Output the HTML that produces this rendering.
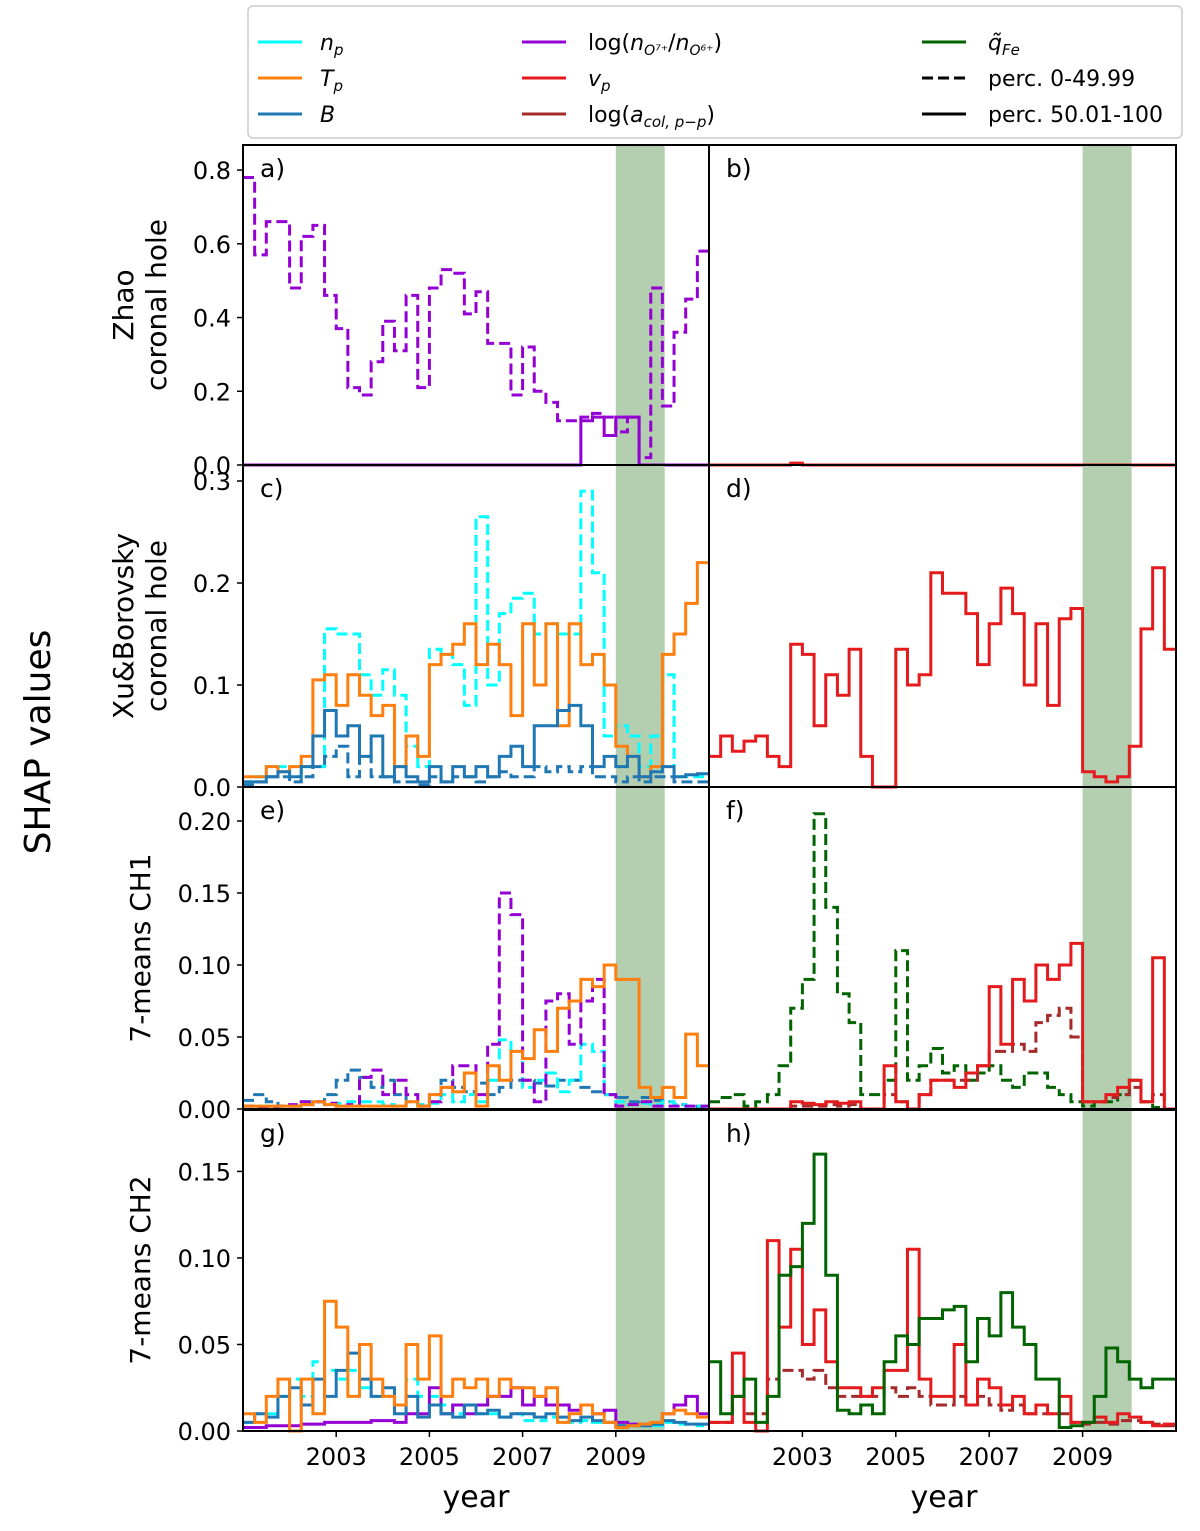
<!DOCTYPE html>
<html><head><meta charset="utf-8"><style>
body{margin:0;background:#fff;}
svg{display:block;font-family:"DejaVu Sans","Liberation Sans",sans-serif;}
</style></head><body>
<svg id="fig" width="1200" height="1531" viewBox="0 0 1200 1531"></svg>
<script>
// ---- data (40 bins, 0.25 yr each, starting 2001.0) ----
const binStart = 2001.0;
const binWidth = 0.25;
const xTicks = [2003, 2005, 2007, 2009];
const yTicksA = [0.0, 0.2, 0.4, 0.6, 0.8];
const yTicksC = [0.0, 0.1, 0.2, 0.3];
const yTicksE = [0.00, 0.05, 0.10, 0.15, 0.20];
const yTicksG = [0.00, 0.05, 0.10, 0.15];
const band = [2009.0, 2010.05];

const aO7dash = [0.78,0.57,0.66,0.66,0.48,0.62,0.65,0.46,0.37,0.21,0.19,0.28,0.39,0.31,0.46,0.21,0.48,0.53,0.52,0.41,0.47,0.33,0.33,0.19,0.32,0.20,0.17,0.12,0.12,0.13,0.14,0.13,0.09,0.13,0.02,0.48,0.16,0.36,0.45,0.58];
const aO7solid = [0,0,0,0,0,0,0,0,0,0,0,0,0,0,0,0,0,0,0,0,0,0,0,0,0,0,0,0,0,0.12,0.13,0.08,0.13,0.13,0,0,0,0,0,0];
const bVp = [0,0,0,0,0,0,0,0.005,0,0,0,0,0,0,0,0,0,0,0,0,0,0,0,0,0,0,0,0,0,0,0,0,0,0,0,0,0,0,0,0];
const cNpDash = [0.005,0.01,0.02,0.02,0.01,0.02,0.02,0.155,0.15,0.15,0.11,0.09,0.115,0.09,0.04,0.02,0.135,0.13,0.12,0.08,0.265,0.10,0.17,0.185,0.19,0.15,0.16,0.15,0.15,0.29,0.21,0.05,0.06,0.05,0.02,0.05,0.11,0.01,0.01,0.01];
const cTp = [0.01,0.01,0.02,0.015,0.02,0.03,0.105,0.11,0.08,0.11,0.09,0.07,0.08,0.02,0.05,0.03,0.12,0.13,0.14,0.16,0.12,0.14,0.12,0.07,0.16,0.10,0.16,0.06,0.16,0.12,0.13,0.10,0.04,0.03,0.01,0.02,0.13,0.15,0.18,0.22];
const cB = [0.005,0.005,0.01,0.015,0.01,0.02,0.05,0.075,0.05,0.06,0.03,0.05,0.01,0.02,0.01,0.005,0.02,0.005,0.02,0.01,0.02,0.01,0.03,0.04,0.02,0.06,0.06,0.075,0.08,0.06,0.02,0.03,0.02,0.03,0.01,0.015,0.02,0.01,0.012,0.013];
const cBdash = [0.002,0.005,0.01,0.01,0.005,0.01,0.02,0.03,0.04,0.01,0.03,0.01,0.01,0.005,0.005,0.002,0.01,0.005,0.01,0.01,0.005,0.01,0.015,0.01,0.01,0.02,0.015,0.02,0.015,0.02,0.01,0.01,0.005,0.01,0.005,0.01,0.01,0.005,0.005,0.005];
const dVp = [0.03,0.05,0.035,0.045,0.05,0.03,0.02,0.14,0.13,0.06,0.11,0.09,0.135,0.03,0,0,0.135,0.10,0.11,0.21,0.19,0.19,0.17,0.12,0.16,0.195,0.17,0.10,0.16,0.08,0.165,0.175,0.015,0.01,0.005,0.01,0.04,0.155,0.215,0.135];
const eTp = [0.002,0.002,0.002,0.002,0.002,0.003,0.005,0.003,0.002,0.002,0.002,0.002,0.002,0.002,0.005,0.002,0.01,0.015,0.012,0.025,0.002,0.03,0.02,0.04,0.035,0.055,0.04,0.07,0.075,0.09,0.085,0.1,0.09,0.09,0.015,0.008,0.015,0.008,0.052,0.03];
const eO7dash = [0.002,0.001,0.001,0.002,0.003,0.005,0.005,0.004,0.002,0.003,0.022,0.027,0.01,0.02,0.01,0.002,0.005,0.015,0.03,0.03,0.01,0.045,0.15,0.135,0.02,0.005,0.075,0.08,0.045,0.075,0.09,0.01,0.002,0.003,0.005,0.002,0.002,0.002,0.002,0.002];
const eNpDash = [0.002,0.002,0.002,0.002,0.002,0.005,0.005,0.003,0.004,0.005,0.005,0.005,0.003,0.002,0.005,0.003,0.004,0.01,0.005,0.01,0.005,0.02,0.048,0.04,0.015,0.02,0.025,0.012,0.02,0.045,0.04,0.01,0.005,0.003,0.004,0.003,0.005,0.003,0.002,0.002];
const eBdash = [0.006,0.01,0.005,0.002,0.002,0.003,0.005,0.01,0.02,0.027,0.022,0.015,0.02,0.01,0.005,0.003,0.01,0.02,0.015,0.012,0.018,0.01,0.015,0.02,0.02,0.018,0.016,0.02,0.02,0.015,0.012,0.01,0.008,0.005,0.008,0.006,0.005,0.003,0.002,0.001];
const fQfeDash = [0.005,0.008,0.01,0.002,0.005,0.01,0.03,0.07,0.09,0.205,0.14,0.08,0.06,0.01,0.01,0.02,0.11,0.02,0.03,0.042,0.025,0.03,0.02,0.025,0.03,0.02,0.015,0.025,0.025,0.015,0.01,0.005,0.002,0.005,0.005,0.01,0.02,0.005,0.001,0];
const fVp = [0,0,0,0,0,0,0,0.005,0.004,0.003,0.005,0.004,0.005,0,0,0.03,0.005,0,0.01,0.02,0.02,0.015,0.025,0.03,0.085,0.045,0.09,0.075,0.1,0.09,0.1,0.115,0.005,0.005,0.01,0.015,0.02,0.005,0.105,0];
const fVpDash = [0,0,0,0,0,0,0,0.002,0.002,0.002,0.003,0.002,0.003,0,0,0.01,0.005,0,0.01,0.02,0.02,0.02,0.02,0.03,0.04,0.04,0.045,0.04,0.06,0.065,0.07,0.05,0.005,0.005,0.008,0.01,0.015,0.005,0.01,0];
const gTp = [0.01,0.005,0.02,0.03,0.0,0.03,0.01,0.075,0.06,0.02,0.05,0.03,0.02,0.015,0.05,0.03,0.055,0.02,0.03,0.025,0.03,0.02,0.03,0.025,0.025,0.02,0.025,0.005,0.01,0.015,0.01,0.005,0.002,0.003,0.004,0.005,0.01,0.012,0.01,0.008];
const gB = [0.005,0.01,0.008,0.02,0.025,0.015,0.03,0.02,0.035,0.045,0.03,0.02,0.025,0.01,0.02,0.008,0.015,0.01,0.008,0.015,0.01,0.012,0.008,0.01,0.01,0.008,0.01,0.008,0.006,0.008,0.006,0.005,0.003,0.003,0.003,0.004,0.006,0.005,0.004,0.004];
const gO7 = [0.002,0.002,0.003,0.003,0.003,0.004,0.004,0.005,0.005,0.005,0.005,0.006,0.006,0.005,0.01,0.01,0.025,0.01,0.015,0.01,0.015,0.02,0.02,0.025,0.015,0.02,0.015,0.015,0.012,0.015,0.01,0.012,0.005,0.004,0.004,0.004,0.01,0.015,0.02,0.01];
const gNpDash = [0.005,0.01,0.01,0.02,0.03,0.02,0.04,0.035,0.03,0.035,0.025,0.02,0.02,0.015,0.03,0.02,0.02,0.015,0.01,0.015,0.01,0.01,0.008,0.01,0.006,0.006,0.008,0.005,0.005,0.006,0.005,0.005,0.003,0.003,0.003,0.003,0.005,0.004,0.004,0.003];
const hQfe = [0.04,0.01,0.02,0.03,0.005,0.02,0.09,0.095,0.12,0.16,0.09,0.012,0.01,0.015,0.01,0.04,0.055,0.05,0.065,0.065,0.07,0.072,0.04,0.065,0.055,0.08,0.06,0.05,0.03,0.03,0.002,0.003,0.005,0.02,0.048,0.04,0.03,0.025,0.03,0.03];
const hVp = [0.005,0.005,0.045,0.005,0.0,0.11,0.06,0.105,0.05,0.07,0.04,0.025,0.025,0.02,0.025,0.035,0.035,0.105,0.03,0.02,0.02,0.05,0.015,0.03,0.025,0.015,0.02,0.01,0.015,0.01,0.02,0.005,0.005,0.008,0.005,0.01,0.008,0.005,0.003,0.004];
const hVpDash = [0.005,0.005,0.02,0.01,0.01,0.03,0.035,0.035,0.03,0.035,0.025,0.02,0.02,0.02,0.02,0.025,0.02,0.025,0.02,0.015,0.015,0.02,0.015,0.02,0.015,0.012,0.015,0.01,0.01,0.01,0.01,0.005,0.004,0.005,0.004,0.006,0.006,0.005,0.004,0.003];

const C = {np:'#00ffff', tp:'#ff7f0e', b:'#1f77b4', o7:'#9400d3', vp:'#e41a1c', ac:'#a52a2a', fe:'#006400'};
const NS='http://www.w3.org/2000/svg';
const svg=document.getElementById('fig');
function mk(tag,attrs,parent){const e=document.createElementNS(NS,tag);for(const k in attrs)e.setAttribute(k,attrs[k]);(parent||svg).appendChild(e);return e;}

const cols=[{x0:243,x1:709},{x0:709,x1:1176}];
const rows=[{y0:145,y1:465,max:0.868,ticks:yTicksA,fmt:1},{y0:465,y1:787,max:0.3157,ticks:yTicksC,fmt:1},{y0:787,y1:1109,max:0.2236,ticks:yTicksE,fmt:2},{y0:1110,y1:1431,max:0.1855,ticks:yTicksG,fmt:2}];
const panels=[
 {r:0,c:0,lab:'a)',series:[[aO7dash,C.o7,true],[aO7solid,C.o7,false]]},
 {r:0,c:1,lab:'b)',series:[[bVp,C.vp,false]]},
 {r:1,c:0,lab:'c)',series:[[cNpDash,C.np,true],[cBdash,C.b,true],[cTp,C.tp,false],[cB,C.b,false]]},
 {r:1,c:1,lab:'d)',series:[[dVp,C.vp,false]]},
 {r:2,c:0,lab:'e)',series:[[eBdash,C.b,true],[eNpDash,C.np,true],[eO7dash,C.o7,true],[eTp,C.tp,false]]},
 {r:2,c:1,lab:'f)',series:[[fQfeDash,C.fe,true],[fVpDash,C.ac,true],[fVp,C.vp,false]]},
 {r:3,c:0,lab:'g)',series:[[gNpDash,C.np,true],[gO7,C.o7,false],[gB,C.b,false],[gTp,C.tp,false]]},
 {r:3,c:1,lab:'h)',series:[[hVpDash,C.ac,true],[hVp,C.vp,false],[hQfe,C.fe,false]]}
];
panels.forEach(p=>{
 const col=cols[p.c],row=rows[p.r];
 const X=v=>col.x0+(v-2001)/10*(col.x1-col.x0);
 const Y=v=>row.y1-v/row.max*(row.y1-row.y0);
 const g=mk('g',{});
 
 
 const bd=mk('rect',{x:X(band[0]),y:row.y0,width:X(band[1])-X(band[0]),height:row.y1-row.y0,fill:'#b3cfb0'},g);
 
 
 p.series.forEach(s=>{
  const d=s[0];let pts=[];
  d.forEach((v,i)=>{const xa=X(binStart+i*binWidth),xb=X(binStart+(i+1)*binWidth);pts.push(xa+','+Y(v),xb+','+Y(v));});
  const pl=mk('polyline',{points:pts.join(' '),fill:'none',stroke:s[1],'stroke-width':3,'stroke-dasharray':s[2]?'11,5':'none'},g);
  
  
 });
 mk('rect',{x:col.x0,y:row.y0,width:col.x1-col.x0,height:row.y1-row.y0,fill:'none',stroke:'#000','stroke-width':2},g);
 const t=mk('text',{x:col.x0+17,y:row.y0+32,'font-size':25},g);t.textContent=p.lab;
 
 
 if(p.c===0){row.ticks.forEach(v=>{
  mk('line',{x1:col.x0-6,x2:col.x0,y1:Y(v),y2:Y(v),stroke:'#000','stroke-width':1.5},g);
  const tt=mk('text',{x:col.x0-12,y:Y(v)+9,'font-size':24,'text-anchor':'end'},g);tt.textContent=v.toFixed(row.fmt);
  
  
 });}
 if(p.r===3){xTicks.forEach(v=>{
  mk('line',{x1:X(v),x2:X(v),y1:row.y1,y2:row.y1+6,stroke:'#000','stroke-width':1.5},g);
  const tt=mk('text',{x:X(v),y:row.y1+34,'font-size':24,'text-anchor':'middle'},g);tt.textContent=v;
  
  
 });}
});
</script>
<svg width="1200" height="1531" style="position:absolute;left:0;top:0">
 <g font-family="DejaVu Sans, Liberation Sans, sans-serif">
 <text x="476" y="1507" font-size="30" text-anchor="middle">year</text>
 <text x="944" y="1507" font-size="30" text-anchor="middle">year</text>
 <text transform="translate(50,742) rotate(-90)" font-size="36" text-anchor="middle">SHAP values</text>
 <text transform="translate(133,305) rotate(-90)" font-size="28" text-anchor="middle">Zhao</text>
 <text transform="translate(166,305) rotate(-90)" font-size="28" text-anchor="middle">coronal hole</text>
 <text transform="translate(133,626) rotate(-90)" font-size="28" text-anchor="middle">Xu&amp;Borovsky</text>
 <text transform="translate(166,626) rotate(-90)" font-size="28" text-anchor="middle">coronal hole</text>
 <text transform="translate(150,948) rotate(-90)" font-size="28" text-anchor="middle">7-means CH1</text>
 <text transform="translate(150,1270) rotate(-90)" font-size="28" text-anchor="middle">7-means CH2</text>
 </g>
 <g font-family="DejaVu Sans, Liberation Sans, sans-serif" font-size="22">
  <rect x="248" y="6" width="934" height="132" rx="5" fill="#fff" stroke="#ccc" stroke-width="1.5"/>
  <line x1="258" y1="42" x2="302" y2="42" stroke="#00ffff" stroke-width="3"/><text x="320" y="50" font-style="italic">n<tspan font-size="15" dy="5">p</tspan></text>
  <line x1="258" y1="78" x2="302" y2="78" stroke="#ff7f0e" stroke-width="3"/><text x="320" y="86" font-style="italic">T<tspan font-size="15" dy="5">p</tspan></text>
  <line x1="258" y1="114" x2="302" y2="114" stroke="#1f77b4" stroke-width="3"/><text x="320" y="122" font-style="italic">B</text>
  <line x1="522" y1="42" x2="566" y2="42" stroke="#9400d3" stroke-width="3"/><text x="588" y="50">log(<tspan font-style="italic">n</tspan><tspan font-size="14" dy="5" font-style="italic">O⁷⁺</tspan><tspan dy="-5">/</tspan><tspan font-style="italic">n</tspan><tspan font-size="14" dy="5" font-style="italic">O⁶⁺</tspan><tspan dy="-5">)</tspan></text>
  <line x1="522" y1="78" x2="566" y2="78" stroke="#e41a1c" stroke-width="3"/><text x="588" y="86" font-style="italic">v<tspan font-size="15" dy="5">p</tspan></text>
  <line x1="522" y1="114" x2="566" y2="114" stroke="#a52a2a" stroke-width="3"/><text x="588" y="122">log(<tspan font-style="italic">a</tspan><tspan font-size="15" dy="5" font-style="italic">col, p−p</tspan><tspan dy="-5">)</tspan></text>
  <line x1="922" y1="42" x2="966" y2="42" stroke="#006400" stroke-width="3"/><text x="988" y="50" font-style="italic">q̃<tspan font-size="15" dy="5">Fe</tspan></text>
  <line x1="922" y1="78" x2="966" y2="78" stroke="#000" stroke-width="3" stroke-dasharray="11,5"/><text x="988" y="86">perc. 0-49.99</text>
  <line x1="922" y1="114" x2="966" y2="114" stroke="#000" stroke-width="3"/><text x="988" y="122">perc. 50.01-100</text>
 </g>
</svg>
</body></html>
